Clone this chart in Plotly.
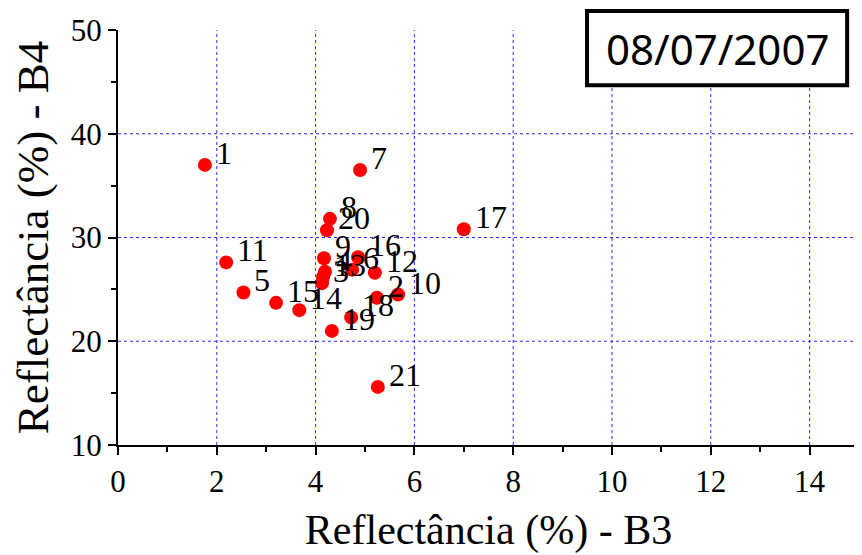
import plotly.graph_objects as go

labels = [str(i) for i in range(1, 22)]
b3 = [1.76, 5.24, 4.13, 4.19, 2.54, 4.74, 4.90, 4.29, 4.17, 5.67, 2.19,
      5.20, 4.15, 3.67, 3.20, 4.86, 7.00, 4.72, 4.33, 4.23, 5.26]
b4 = [37.0, 24.2, 25.6, 26.7, 24.7, 26.9, 36.5, 31.8, 28.0, 24.5, 27.6,
      26.6, 26.2, 23.0, 23.7, 28.1, 30.8, 22.3, 21.0, 30.7, 15.6]

x_grid = [2, 4, 6, 8, 10, 12, 14]
y_grid = [20, 30, 40]
date_text = "08/07/2007"

serif = "Liberation Serif"

fig = go.Figure()
fig.add_trace(go.Scatter(
    x=b3, y=b4, mode="markers",
    marker=dict(color="#ff0000", size=14, line=dict(width=0)),
    hoverinfo="text", text=labels, showlegend=False,
))

for lab, xv, yv in zip(labels, b3, b4):
    fig.add_annotation(x=xv, y=yv, text=lab, showarrow=False,
                       xanchor="left", yanchor="middle", xshift=9, yshift=12,
                       font=dict(family=serif, size=32, color="black"))

for gx in x_grid:
    fig.add_shape(type="line", xref="x", yref="paper", x0=gx, x1=gx, y0=0, y1=1,
                  line=dict(color="rgb(40,40,255)", width=1, dash="dot"), layer="below")
for gy in y_grid:
    fig.add_shape(type="line", xref="paper", yref="y", x0=0, x1=1, y0=gy, y1=gy,
                  line=dict(color="rgb(40,40,255)", width=1, dash="dot"), layer="below")

# date box
bx0, bx1, by0, by1 = 0.633, 0.984, 0.867, 1.046
fig.add_shape(type="rect", xref="paper", yref="paper", x0=bx0, x1=bx1, y0=by0, y1=by1,
              line=dict(color="black", width=4), fillcolor="white", layer="above")
fig.add_annotation(xref="paper", yref="paper", x=(bx0 + bx1) / 2, y=(by0 + by1) / 2,
                   text=date_text, showarrow=False, xanchor="center", yanchor="middle",
                   font=dict(family="Noto Sans", size=42, color="black"))

axis_common = dict(
    showgrid=False, zeroline=False, showline=True, linecolor="black", linewidth=2,
    ticks="outside", ticklen=8, tickwidth=2, tickcolor="black", automargin=False,
    tickfont=dict(family=serif, size=31, color="black"),
)

fig.update_xaxes(range=[0, 15], tick0=0, dtick=2,
                 minor=dict(dtick=1, ticks="outside", ticklen=5, tickwidth=2, tickcolor="black"),
                 title=dict(text="Reflectância (%) - B3", font=dict(family=serif, size=42, color="black"),
                            standoff=16),
                 **axis_common)
fig.update_yaxes(range=[10, 50], tick0=10, dtick=10,
                 minor=dict(dtick=5, ticks="outside", ticklen=5, tickwidth=2, tickcolor="black"),
                 title=dict(text="Reflectância (%) - B4", font=dict(family=serif, size=45, color="black"),
                            standoff=12),
                 **axis_common)

# the page adds an 8px body margin, so the figure is sized to fill the rest of the window
fig.update_layout(
    width=854, height=547,
    margin=dict(l=110, r=3, t=22, b=110),
    plot_bgcolor="white", paper_bgcolor="white",
)

fig.write_html("out.html")
